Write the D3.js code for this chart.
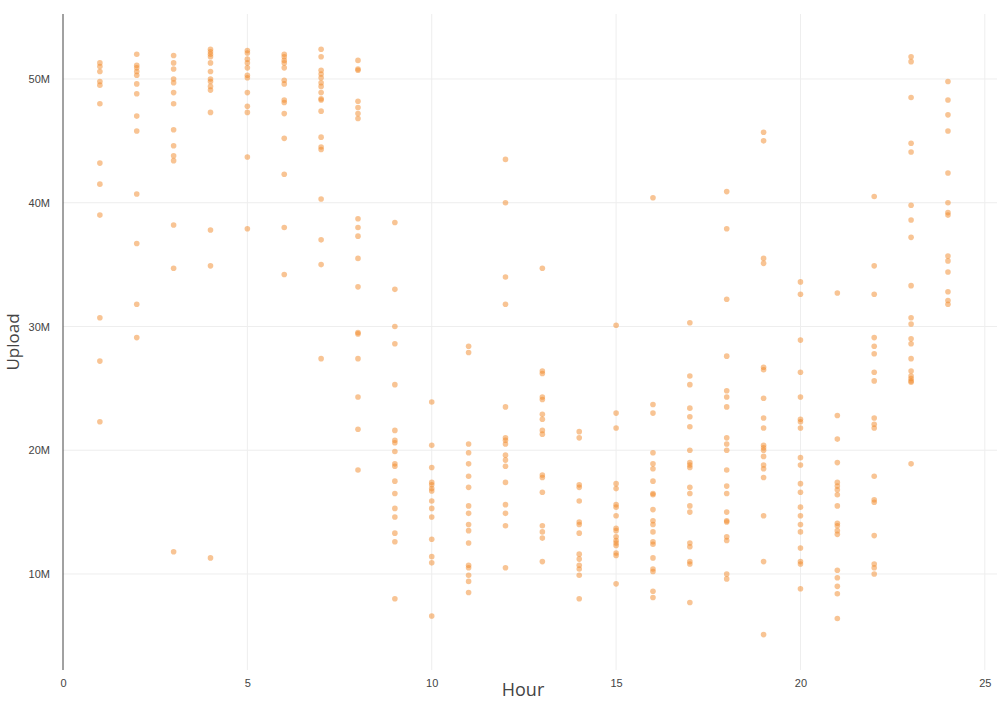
<!DOCTYPE html>
<html>
<head>
<meta charset="utf-8">
<script src="https://cdn.jsdelivr.net/npm/d3@7"></script>
<style>
  html, body { margin: 0; padding: 0; background: #fff; }
  svg { display: block; font-family: "Open Sans", "Noto Sans", sans-serif; }
</style>
</head>
<body>
<svg id="chart" width="999" height="702"></svg>
<script>
// Upload values (in millions) observed per hour
const hours = [1,2,3,4,5,6,7,8,9,10,11,12,13,14,15,16,17,18,19,20,21,22,23,24];
const h01 = [51.3,51.0,50.6,49.8,49.5,48.0,43.2,41.5,39.0,30.7,27.2,22.3];
const h02 = [52.0,51.1,50.9,50.6,50.3,49.6,48.8,47.0,45.8,40.7,36.7,31.8,29.1];
const h03 = [51.9,51.3,50.8,50.0,49.7,48.9,48.0,45.9,44.6,43.8,43.4,38.2,34.7,11.8];
const h04 = [52.4,52.2,52.0,51.8,51.3,50.6,50.0,49.8,49.4,49.1,47.3,37.8,34.9,11.3];
const h05 = [52.3,52.1,51.6,51.3,50.9,50.3,50.1,48.9,47.8,47.3,43.7,37.9];
const h06 = [52.0,51.8,51.5,51.3,50.9,49.9,49.6,48.3,48.1,47.2,45.2,42.3,38.0,34.2];
const h07 = [52.4,51.8,50.7,50.4,50.1,49.7,49.4,48.9,48.4,48.3,47.4,45.3,44.5,44.3,40.3,37.0,35.0,27.4];
const h08 = [51.5,50.8,50.7,48.2,47.7,47.2,46.8,38.7,38.0,37.3,35.5,33.2,29.5,29.4,27.4,24.3,21.7,18.4];
const h09 = [38.4,33.0,30.0,28.6,25.3,21.6,20.8,20.6,19.9,18.9,18.7,17.5,16.5,15.3,14.6,13.3,12.6,8.0];
const h10 = [23.9,20.4,18.6,17.4,17.2,16.9,16.7,15.9,15.3,14.6,12.8,11.4,10.9,6.6];
const h11 = [28.4,27.9,20.5,19.8,18.9,17.9,17.0,15.5,14.9,14.0,13.5,12.5,10.7,10.5,9.9,9.4,8.5];
const h12 = [43.5,40.0,34.0,31.8,23.5,21.0,20.8,20.5,19.6,19.2,18.7,17.4,15.6,14.9,13.9,10.5];
const h13 = [34.7,26.4,26.2,24.3,24.1,22.9,22.5,21.6,21.3,18.0,17.8,16.6,13.9,13.4,12.9,11.0];
const h14 = [21.5,21.0,17.2,17.0,15.9,14.2,14.0,13.3,11.6,11.2,10.7,10.4,9.9,8.0];
const h15 = [30.1,23.0,21.8,17.3,16.9,15.6,15.4,14.7,13.7,13.5,13.0,12.7,12.5,12.3,11.7,11.5,9.2];
const h16 = [40.4,23.7,23.0,19.8,18.9,18.5,17.5,16.5,16.4,15.2,14.3,14.0,13.4,12.6,12.4,11.3,10.4,10.2,8.6,8.1];
const h17 = [30.3,26.0,25.3,23.4,22.7,21.9,20.0,19.0,18.8,18.6,17.0,16.5,15.5,15.0,12.5,12.2,11.0,10.8,7.7];
const h18 = [40.9,37.9,32.2,27.6,24.8,24.3,23.5,21.0,20.5,20.0,18.4,17.1,16.5,15.0,14.3,14.2,13.0,12.7,10.0,9.6];
const h19 = [45.7,45.0,35.5,35.1,26.7,26.5,24.2,22.6,21.8,20.4,20.2,20.0,19.5,18.8,18.5,17.8,14.7,11.0,5.1];
const h20 = [33.6,32.6,28.9,26.3,24.3,22.5,22.3,21.8,19.4,18.8,17.3,16.6,15.4,14.7,14.0,13.4,12.1,11.0,10.8,8.8];
const h21 = [32.7,22.8,20.9,19.0,17.4,17.1,16.8,16.4,15.5,14.1,13.9,13.5,13.2,10.3,9.7,9.0,8.4,6.4];
const h22 = [40.5,34.9,32.6,29.1,28.4,27.8,26.3,25.6,22.6,22.1,21.8,17.9,16.0,15.8,13.1,10.8,10.5,10.0];
const h23 = [51.8,51.4,48.5,44.8,44.1,39.8,38.6,37.2,33.3,30.7,30.2,29.0,28.6,27.4,26.4,26.0,25.8,25.6,25.5,18.9];
const h24 = [49.8,48.3,47.1,45.8,42.4,40.0,39.2,39.0,35.7,35.3,34.4,32.8,32.1,31.8];
const uploads = [h01,h02,h03,h04,h05,h06,h07,h08,h09,h10,h11,h12,h13,h14,h15,h16,h17,h18,h19,h20,h21,h22,h23,h24];
const xTicks = [0,5,10,15,20,25];
const yTicks = [10,20,30,40,50];

(function () {
const points = [];
hours.forEach((h, i) => uploads[i].forEach(v => points.push({hour: h, upload: v * 1e6})));

const svg = d3.select("#chart");
const mLeft = 63, mRight = 997, mTop = 14, mBottom = 670;

const x = d3.scaleLinear().domain([0, 25.33]).range([mLeft, mRight]);
const y = d3.scaleLinear().domain([2.24e6, 55.25e6]).range([mBottom, mTop]);

// gridlines
svg.append("g").selectAll("line").data(yTicks).join("line")
  .attr("x1", mLeft).attr("x2", mRight)
  .attr("y1", d => y(d * 1e6)).attr("y2", d => y(d * 1e6))
  .attr("stroke", "#eeeeee").attr("stroke-width", 1);
svg.append("g").selectAll("line").data(xTicks.filter(d => d > 0)).join("line")
  .attr("x1", d => x(d)).attr("x2", d => x(d))
  .attr("y1", mTop).attr("y2", mBottom)
  .attr("stroke", "#eeeeee").attr("stroke-width", 1);

// zero line (x = 0)
svg.append("line")
  .attr("x1", x(0)).attr("x2", x(0)).attr("y1", mTop).attr("y2", mBottom)
  .attr("stroke", "#444").attr("stroke-width", 1);

const xAxis = d3.axisBottom(x).tickValues(xTicks).tickSize(0).tickPadding(9);
const gx = svg.append("g").attr("transform", `translate(0,${mBottom})`).call(xAxis);
gx.select(".domain").remove();
gx.selectAll("text").attr("fill", "#444").style("font-size", "11px");

const yAxis = d3.axisLeft(y).tickValues(yTicks.map(d => d * 1e6))
  .tickFormat(d => d3.format("~s")(d)).tickSize(0).tickPadding(13);
const gy = svg.append("g").attr("transform", `translate(${mLeft},0)`).call(yAxis);
gy.select(".domain").remove();
gy.selectAll("text").attr("fill", "#444").style("font-size", "11px");

// points
svg.append("g").selectAll("circle").data(points).join("circle")
  .attr("cx", d => x(d.hour)).attr("cy", d => y(d.upload))
  .attr("r", 2.8)
  .attr("fill", "#f28a2a").attr("fill-opacity", 0.5);

// axis titles
svg.append("text").attr("x", (mLeft + mRight) / 2 - 7).attr("y", 696)
  .attr("text-anchor", "middle").attr("fill", "#444").style("font-size", "18px").text("Hour");
svg.append("text").attr("transform", `translate(19,${(mTop + mBottom) / 2}) rotate(-90)`)
  .attr("text-anchor", "middle").attr("fill", "#444").style("font-size", "17px").text("Upload");
})();
</script>
</body>
</html>
